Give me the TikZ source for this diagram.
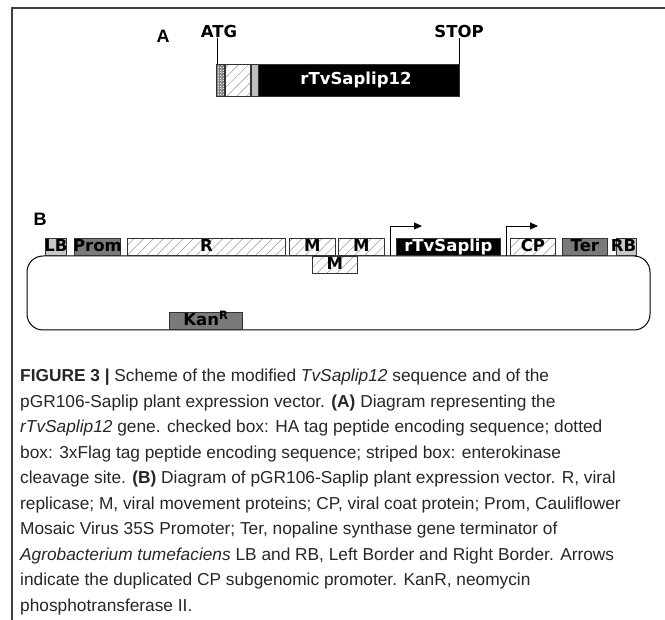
\documentclass[tikz,border=0pt]{standalone}
\usepackage{fontspec}
\setmainfont{Liberation Sans}
\newfontfamily\mapfont{DejaVu Sans}
\usetikzlibrary{patterns.meta,arrows.meta}

\tikzset{
  gbox/.style={draw=black!80, line width=0.8pt, inner sep=0pt,
    text height=12pt, text depth=3.5pt,
    font=\mapfont\bfseries\fontsize{16.5}{16.5}\selectfont},
  hatchbox/.style={gbox, preaction={fill=white},
    pattern={Lines[angle=45,distance=7pt,line width=0.5pt]}, pattern color=black!40},
  darkbox/.style={gbox, fill=black!52},
  lightbox/.style={gbox, fill=black!22},
  blackbox/.style={gbox, fill=black, text=white},
  maplabel/.style={font=\mapfont\bfseries\fontsize{16.5}{16.5}\selectfont, inner sep=1pt},
  panel/.style={font=\bfseries\fontsize{18}{18}\selectfont},
  capline/.style={anchor=base west, inner sep=0pt, text=black!85,
    font=\fontsize{17.3}{17.3}\selectfont},
}

\begin{document}
\begin{tikzpicture}[x=1pt, y=1pt]
  \useasboundingbox (0,0) rectangle (665,-620);

  % Frame
  \draw[black!75, line width=1.3pt] (12,-620) |- (665,-8);

  % Panel A: tagged gene
  \node[panel] (lblA) at (163,-36) {A};
  \node[blackbox, minimum width=242pt, minimum height=32pt, anchor=north west]
    (gene) at (217,-64) {};
  \node[hatchbox, minimum width=25pt, minimum height=32pt, anchor=north west]
    (ek) at (225,-64) {};
  \node[gbox, fill=black!25, minimum width=7pt, minimum height=32pt, anchor=north west]
    (flag) at (ek.north east) {};
  \node[gbox, preaction={fill=black!8}, pattern={Hatch[distance=1.6pt,line width=0.3pt]},
    pattern color=black!50, minimum width=8pt, minimum height=32pt,
    anchor=north east] (ha) at (ek.north west) {};
  \node[maplabel, text=white] (genelbl) at (356,-80) {rTvSaplip12};
  \node[maplabel] (atg) at (219,-31) {ATG};
  \node[maplabel] (stop) at (459,-31) {STOP};
  \draw[line width=0.8pt] (gene.north west) -- (gene.north west |- atg.south);
  \draw[line width=0.8pt] (gene.north east) -- (gene.north east |- stop.south);

  % Panel B: expression vector
  \node[panel] (lblB) at (40,-219) {B};
  \draw[line width=1pt, rounded corners=16pt] (27,-256) rectangle (650,-330);

  % Boxes on the top of the vector
  \foreach \xa/\xb/\sty/\lbl [count=\i] in {
    45/66/lightbox/LB,
    74/120/darkbox/Prom,
    127/285/hatchbox/R,
    289/335/hatchbox/M,
    338/384/hatchbox/M,
    396/500/blackbox/rTvSaplip,
    510/555/hatchbox/CP,
    562/607/darkbox/Ter,
    616/636/lightbox/RB
  }{
    \pgfmathsetmacro\ww{\xb-\xa}
    \node[\sty, minimum width=\ww pt, minimum height=17pt, anchor=south west]
      (b\i) at (\xa,-256) {\makebox[0pt]{\lbl}};
  }
  \node[hatchbox, minimum width=45pt, minimum height=17pt, anchor=north west]
    (m3) at (312,-256) {\makebox[0pt]{M}};
  \node[darkbox, minimum width=73pt, minimum height=17pt, anchor=south west]
    (kan) at (169,-330) {\makebox[0pt]{Kan\textsuperscript{R}}};

  % Subgenomic promoter arrows
  \coordinate (p1) at (390,-256);
  \coordinate (p1e) at (422,-226);
  \coordinate (p2) at (506,-256);
  \coordinate (p2e) at (538,-226);
  \draw[line width=0.9pt, -{Triangle[length=8pt,width=7pt]}] (p1) |- (p1e);
  \draw[line width=0.9pt, -{Triangle[length=8pt,width=7pt]}] (p2) |- (p2e);

  % Caption
  \foreach \t [count=\i from 0] in {
    {\textbf{FIGURE 3 |} Scheme of the modified \textit{TvSaplip12} sequence and of the},
    {pGR106-Saplip plant expression vector. \textbf{(A)} Diagram representing the},
    {\textit{rTvSaplip12} gene. checked box: HA tag peptide encoding sequence; dotted},
    {box: 3xFlag tag peptide encoding sequence; striped box: enterokinase},
    {cleavage site. \textbf{(B)} Diagram of pGR106-Saplip plant expression vector. R, viral},
    {replicase; M, viral movement proteins; CP, viral coat protein; Prom, Cauliflower},
    {Mosaic Virus 35S Promoter; Ter, nopaline synthase gene terminator of},
    {\textit{Agrobacterium tumefaciens} LB and RB, Left Border and Right Border. Arrows},
    {indicate the duplicated CP subgenomic promoter. KanR, neomycin},
    {phosphotransferase II.}
  }{
    \node[capline] (cap\i) at (20,-382-25.5*\i) {\t};
  }
\end{tikzpicture}
\end{document}
